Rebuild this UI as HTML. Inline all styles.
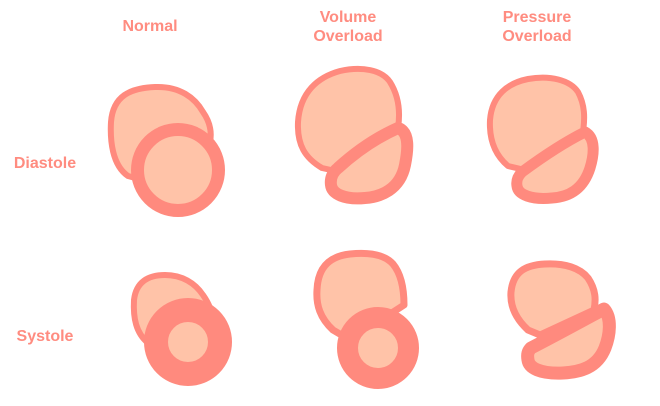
<!DOCTYPE html>
<html><head><style>
html,body{margin:0;padding:0;background:#fff;}
svg{display:block;}
text{font-family:"Liberation Sans",sans-serif;font-weight:bold;font-size:16px;fill:#FF8C80;}
</style></head><body>
<svg width="660" height="406" viewBox="0 0 660 406">
<g text-anchor="middle">
<text x="150" y="31">Normal</text>
<text x="348" y="22">Volume</text>
<text x="348" y="41">Overload</text>
<text x="537" y="22">Pressure</text>
<text x="537" y="41">Overload</text>
<text x="45" y="168">Diastole</text>
<text x="45" y="341">Systole</text>
</g>
<g fill="#FFC3A8" stroke="#FF8A7E" stroke-linejoin="round">
<!-- Normal diastole -->
<path stroke-width="6" d="M128,176 C112,165 110,140 111,122 C113,96 130,88 155,87 C180,86 195,98 203,112 C210,122 212,132 210,142 L150,182 Z"/>
<circle cx="178" cy="170" r="40.5" stroke-width="13"/>
<!-- Volume diastole -->
<path stroke-width="6" d="M322,168 C305,158 297,145 298,122 C300,92 318,77 340,71 C362,66 382,70 390,82 C400,98 400,115 398,128 L340,172 Z"/>
<path stroke-width="12" d="M338,168 C360,148 380,136 398,128 C410,132 408,150 405,165 C400,190 380,197 365,198 C345,200 332,194 331,185 C330,178 333,172 338,168 Z"/>
<!-- Pressure diastole -->
<path stroke-width="6" d="M508,166 C495,155 489,140 490,120 C492,95 508,83 528,79 C550,75 570,80 578,92 C585,105 585,118 583,132 L525,170 Z"/>
<path stroke-width="11" d="M522,172 C545,155 565,142 585,132 C596,138 594,155 590,168 C583,190 568,197 552,198 C532,200 518,195 517,186 C516,180 518,176 522,172 Z"/>
<!-- Normal systole -->
<path stroke-width="6" d="M148,343 C136,333 133,318 134,300 C136,282 148,275 165,275 C182,275 195,283 203,295 C210,305 212,312 212,318 L160,350 Z"/>
<circle cx="188" cy="342" r="32" stroke-width="24"/>
<!-- Volume systole -->
<path stroke-width="7" d="M333,330 C320,318 316,305 317,290 C318,265 332,256 350,254 C370,252 385,255 393,264 C402,275 404,292 404,305 L350,340 Z"/>
<circle cx="378" cy="348" r="30.5" stroke-width="21"/>
<!-- Pressure systole -->
<path stroke-width="7" d="M528,330 C515,318 510,305 511,292 C513,272 525,265 545,264 C565,263 580,268 588,278 C596,290 596,300 594,310 L540,335 Z"/>
<path stroke-width="13" d="M531,348 C560,333 580,322 604,309 C612,318 610,335 605,348 C597,368 580,372 563,373 C540,374 529,368 528,360 C527,354 528,351 531,348 Z"/>
</g>
</svg>
</body></html>
